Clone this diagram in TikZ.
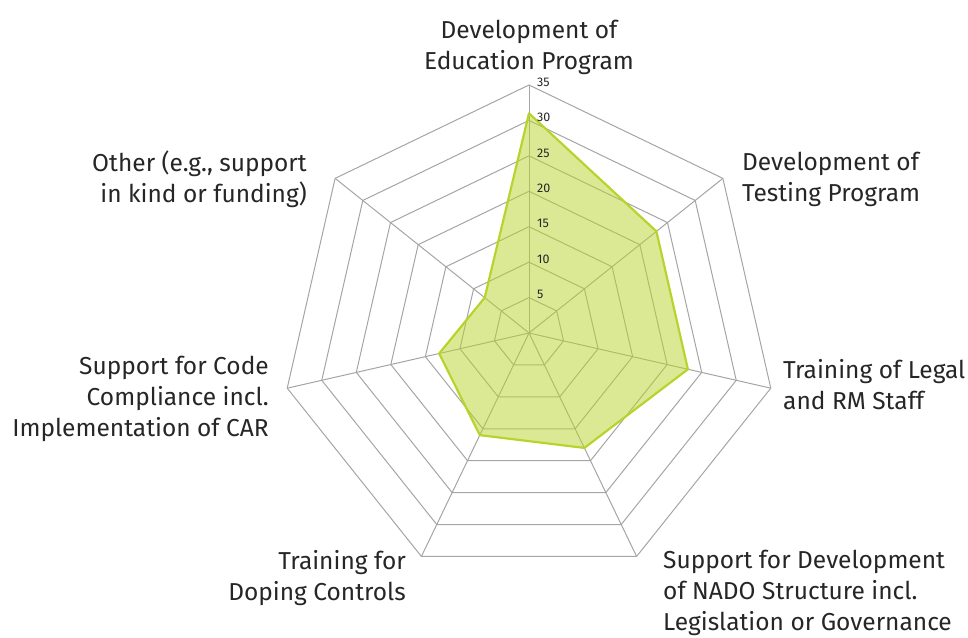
\documentclass[tikz,border=0pt]{standalone}
\usepackage{fontspec}
\setmainfont{Fira Sans}
\usepackage{tikz}
\usetikzlibrary{positioning}
\definecolor{gridgray}{RGB}{165,165,165}
\definecolor{mygreen}{RGB}{183,212,44}
\definecolor{labelgray}{RGB}{38,38,38}

\begin{document}
\begin{tikzpicture}[x=1pt,y=1pt,
    axislabel/.style={text=labelgray,font=\fontsize{24.5}{31}\selectfont,inner sep=0pt},
    scalelabel/.style={text=labelgray,font=\fontsize{12.5}{14}\selectfont,anchor=west,inner sep=0pt}]
	\useasboundingbox (-529,-304) rectangle (439,333);

	% grid rings and spokes
	\begin{scope}[draw=gridgray,line width=1pt]
	    \foreach \r in {5,10,...,35}
	        \draw (90:\r*7.086pt) \foreach \k in {1,...,6} {-- (90-\k*360/7:\r*7.086pt)} -- cycle;
	    \foreach \k in {0,...,6}
	        \draw (0,0) -- (90-\k*360/7:248pt);
	\end{scope}

	% data
	\coordinate (edu) at (90:31*7.086pt);
	\coordinate (test) at (90-1*360/7:23*7.086pt);
	\coordinate (legal) at (90-2*360/7:23*7.086pt);
	\coordinate (nado) at (90-3*360/7:18*7.086pt);
	\coordinate (dope) at (90-4*360/7:16*7.086pt);
	\coordinate (car) at (90-5*360/7:13*7.086pt);
	\coordinate (other) at (90-6*360/7:8*7.086pt);
	\path [draw=mygreen,line width=2.2pt,line join=round,fill=mygreen,fill opacity=0.5]
	    (edu) -- (test) -- (legal) -- (nado) -- (dope) -- (car) -- (other) -- cycle;

	% scale
	\foreach \r in {5,10,...,35}
	    \node[scalelabel] at ([xshift=8pt,yshift=3pt]90:\r*7.086pt) {\r};

	% axis labels
	\node[axislabel,align=center] (Ledu) at (0,286) {Development of\\Education Program};
	\node[axislabel,align=left,anchor=west] (Ltest) at (213,154) {Development of\\Testing Program};
	\node[axislabel,align=left,anchor=west] (Llegal) at (254,-52) {Training of Legal\\and RM Staff};
	\node[axislabel,align=left,anchor=west] (Lnado) at (134,-260) {Support for Development\\of NADO Structure incl.\\Legislation or Governance};
	\node[axislabel,align=right,anchor=east] (Ldope) at (-123,-245) {Training for\\Doping Controls};
	\node[axislabel,align=right,anchor=east] (Lcar) at (-260,-66) {Support for Code\\Compliance incl.\\Implementation of CAR};
	\node[axislabel,align=right,anchor=east] (Lother) at (-222,154) {Other (e.g., support\\in kind or funding)};
\end{tikzpicture}
\end{document}
